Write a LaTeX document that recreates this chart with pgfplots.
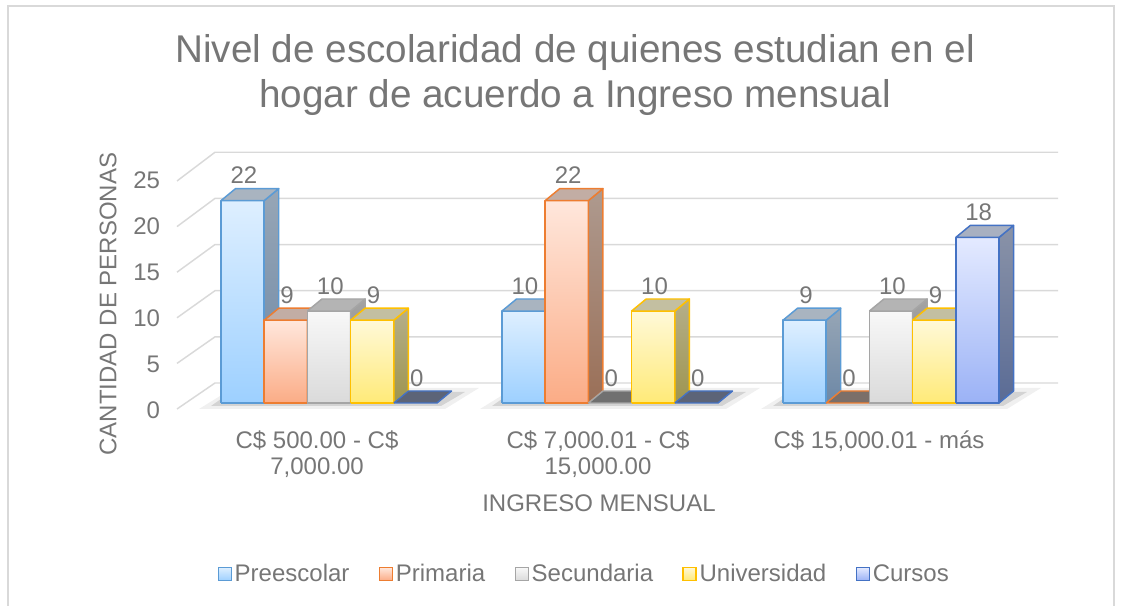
\documentclass[border=0pt]{standalone}
\usepackage{fontspec}
\setmainfont{Liberation Sans}
\usepackage{pgfplots}
\pgfplotsset{compat=1.18}

\definecolor{txt}{HTML}{767676}
\definecolor{gridc}{HTML}{D9D9D9}
\definecolor{preB}{HTML}{5B9BD5}\definecolor{preF1}{HTML}{DEEFFF}\definecolor{preF2}{HTML}{9DD0FF}
\definecolor{preT}{HTML}{A9B4C0}\definecolor{preS1}{HTML}{97A6B6}\definecolor{preS2}{HTML}{6D88A6}\definecolor{preZ}{HTML}{5E6F82}
\definecolor{priB}{HTML}{ED7D31}\definecolor{priF1}{HTML}{FFE7DC}\definecolor{priF2}{HTML}{FBAC86}
\definecolor{priT}{HTML}{C2ADA4}\definecolor{priS1}{HTML}{AE9A8F}\definecolor{priS2}{HTML}{9A6F57}\definecolor{priZ}{HTML}{7B6F69}
\definecolor{secB}{HTML}{A5A5A5}\definecolor{secF1}{HTML}{F8F8F8}\definecolor{secF2}{HTML}{DADADA}
\definecolor{secT}{HTML}{B4B4B4}\definecolor{secS1}{HTML}{A3A3A3}\definecolor{secS2}{HTML}{878787}\definecolor{secZ}{HTML}{707070}
\definecolor{uniB}{HTML}{FFC000}\definecolor{uniF1}{HTML}{FFF9D8}\definecolor{uniF2}{HTML}{FFEA78}
\definecolor{uniT}{HTML}{C3BFA1}\definecolor{uniS1}{HTML}{B5AF8A}\definecolor{uniS2}{HTML}{9E954F}\definecolor{uniZ}{HTML}{7A7560}
\definecolor{curB}{HTML}{4472C4}\definecolor{curF1}{HTML}{E4EAFF}\definecolor{curF2}{HTML}{9BB2F6}
\definecolor{curT}{HTML}{A8B0C1}\definecolor{curS1}{HTML}{8A93A8}\definecolor{curS2}{HTML}{5A6B95}\definecolor{curZ}{HTML}{5C6478}

\newcommand\lblfont{\fontsize{18}{20}\selectfont}

\pgfplotsset{
  facestyle/.style={forget plot, mark=none, line width=1.1pt, line join=round},
  lbl/.style 2 args={draw=none, mark=none, point meta=y, nodes near coords,
    nodes near coords style={font=\lblfont, text=txt, anchor=center, xshift=#1pt+1pt, yshift=18.75pt},
    legend image code/.code={\path[draw=#2B, line width=1.1pt, top color=#2F1, bottom color=#2F2] (0pt,-4.9pt) rectangle (9.75pt,4.9pt);}},
}

% 3-D bar: #1 category, #2 offset within group (axis units), #3 value, #4 series colour prefix
% half width 16.2pt = 0.07687 units; depth 10.9pt = 0.05172 units (x), 9pt = 1.3043 units (y)
\newcommand\threedbar[4]{%
  \pgfmathsetmacro\xm{#1+#2}%
  \pgfmathsetmacro\xa{\xm-0.07687}%
  \pgfmathsetmacro\xb{\xm+0.07687}%
  \pgfmathsetmacro\xc{\xm+0.07687+0.05172}%
  \pgfmathsetmacro\xd{\xm-0.07687+0.05172}%
  \pgfmathsetmacro\yt{#3+1.3043}%
  \ifdim #3pt>0pt
    \edef\tmp{\noexpand\addplot[facestyle, draw=#4B, top color=#4F1, bottom color=#4F2] coordinates {(\xa,0) (\xb,0) (\xb,#3) (\xa,#3) (\xa,0)};}\tmp
    \edef\tmp{\noexpand\addplot[facestyle, draw=#4B, top color=#4S1, bottom color=#4S2] coordinates {(\xb,0) (\xc,1.3043) (\xc,\yt) (\xb,#3) (\xb,0)};}\tmp
    \edef\tmp{\noexpand\addplot[facestyle, draw=#4B, fill=#4T] coordinates {(\xa,#3) (\xb,#3) (\xc,\yt) (\xd,\yt) (\xa,#3)};}\tmp
  \else
    \edef\tmp{\noexpand\addplot[facestyle, draw=#4B, fill=#4Z] coordinates {(\xa,0) (\xb,0) (\xc,1.3043) (\xd,1.3043) (\xa,0)};}\tmp
  \fi
}

\begin{document}
\begin{tikzpicture}
\useasboundingbox (0,0) rectangle (846.75pt,454.5pt);
\begin{scope}[x=0.75pt,y=-0.75pt,shift={(0pt,454.5pt)}]
  % chart border
  \draw[gridc, line width=1.1pt] (8,620) -- (8,6) -- (1114,6) -- (1114,620);
  % title
  \node[font=\fontsize{29}{33.75}\selectfont, text=txt, align=center] at (575,75)
    {Nivel de escolaridad de quienes estudian en el\\hogar de acuerdo a Ingreso mensual};
  % axis titles
  \node[font=\lblfont, text=txt, rotate=90] at (108,304) {CANTIDAD DE PERSONAS};
  \node[font=\lblfont, text=txt] at (599,503) {INGRESO MENSUAL};
  % 3D gridlines (side wall and back wall)
  \foreach \v in {0,5,10,15,20,25} {
    \draw[gridc, line width=1.1pt] (177,409-9.12*\v) -- (215,383-9.23*\v) -- (1058,383-9.23*\v);
  }
  % floor shadows
  \foreach \L/\R in {221/437, 502/718, 783/999} {
    \fill[black, opacity=0.06] (\L-22,409) -- (\R+8,409) -- (\R+42,388) -- (\L+12,388) -- cycle;
    \fill[black, opacity=0.12] (\L-10,406) -- (\R+4,406) -- (\R+28,392) -- (\L+10,392) -- cycle;
  }
\end{scope}

\begin{axis}[
  at={(139.275pt,152.25pt)}, anchor=south west,
  scale only axis, width=636.465pt, height=172.5pt,
  xmin=-0.51, xmax=2.51, ymin=0, ymax=25,
  clip=false,
  axis line style={draw=none}, major tick length=0pt,
  ytick={0,5,10,15,20,25},
  xtick={0,1,2},
  xticklabels={{C\$ 500.00 - C\$\\7,000.00},{C\$ 7,000.01 - C\$\\15,000.00},{C\$ 15,000.01 - más}},
  ticklabel style={font=\lblfont, text=txt},
  xticklabel style={align=center, xshift=-9pt, yshift=-17pt},
  yticklabel style={xshift=-15.75pt, yshift=-5.25pt},
  /pgf/number format/assume math mode=true,
  legend columns=5,
  legend style={at={(0.4700,-0.7435)}, anchor=center, draw=none, fill=none,
    font=\lblfont, text=txt,
    /tikz/every even column/.append style={column sep=20pt}},
]
% Preescolar
\threedbar{0}{-0.30747}{22}{pre}
\threedbar{1}{-0.30747}{10}{pre}
\threedbar{2}{-0.30747}{9}{pre}
% Primaria
\threedbar{0}{-0.15374}{9}{pri}
\threedbar{1}{-0.15374}{22}{pri}
\threedbar{2}{-0.15374}{0}{pri}
% Secundaria
\threedbar{0}{0}{10}{sec}
\threedbar{1}{0}{0}{sec}
\threedbar{2}{0}{10}{sec}
% Universidad
\threedbar{0}{0.15374}{9}{uni}
\threedbar{1}{0.15374}{10}{uni}
\threedbar{2}{0.15374}{9}{uni}
% Cursos
\threedbar{0}{0.30747}{0}{cur}
\threedbar{1}{0.30747}{0}{cur}
\threedbar{2}{0.30747}{18}{cur}

% value labels and legend entries
\addplot[lbl={-64.8}{pre}] coordinates {(0,22) (1,10) (2,9)};
\addlegendentry{Preescolar}
\addplot[lbl={-32.4}{pri}] coordinates {(0,9) (1,22) (2,0)};
\addlegendentry{Primaria}
\addplot[lbl={0}{sec}] coordinates {(0,10) (1,0) (2,10)};
\addlegendentry{Secundaria}
\addplot[lbl={32.4}{uni}] coordinates {(0,9) (1,10) (2,9)};
\addlegendentry{Universidad}
\addplot[lbl={64.8}{cur}] coordinates {(0,0) (1,0) (2,18)};
\addlegendentry{Cursos}
\end{axis}
\end{tikzpicture}
\end{document}
